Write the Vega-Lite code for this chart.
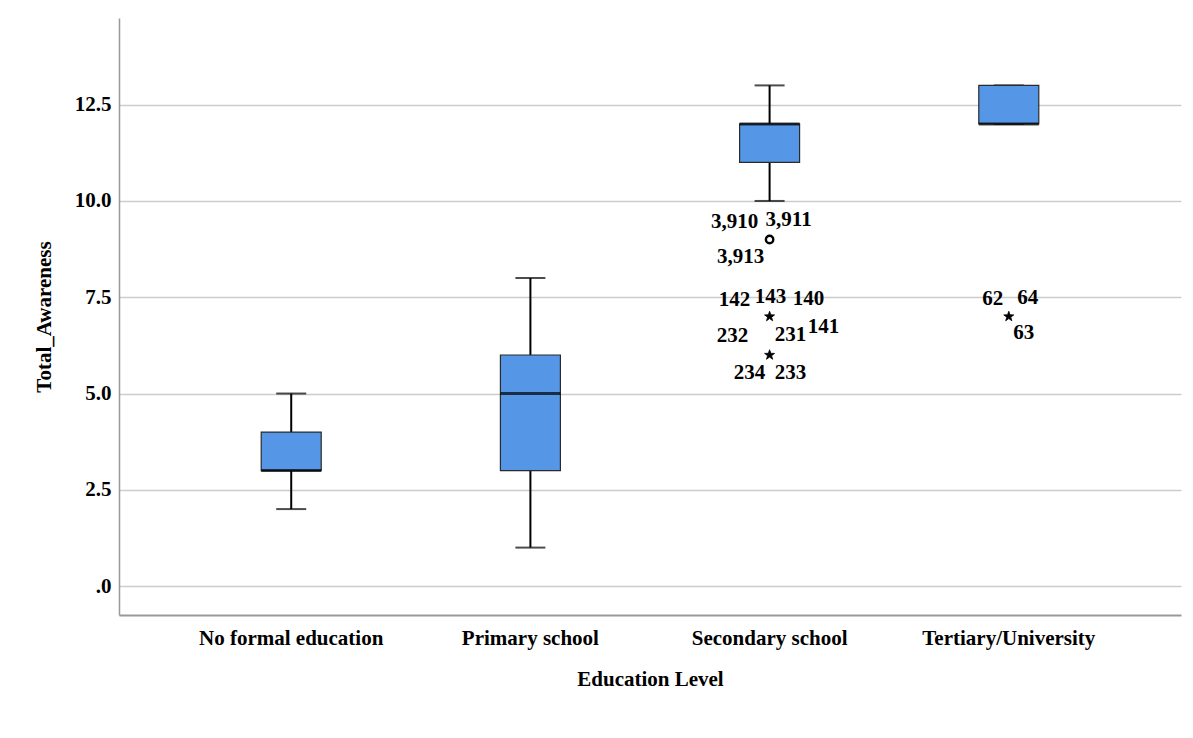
{
  "$schema": "https://vega.github.io/schema/vega-lite/v6.json",
  "autosize": {"type": "none"},
  "padding": {"left": 119, "top": 18, "right": 12, "bottom": 123},
  "width": 1062,
  "height": 597,
  "background": "white",
  "datasets": {
    "boxes": [
      {"edu": "No formal education", "min": 2, "q1": 3, "median": 3, "q3": 4, "max": 5},
      {"edu": "Primary school", "min": 1, "q1": 3, "median": 5, "q3": 6, "max": 8},
      {"edu": "Secondary school", "min": 10, "q1": 11, "median": 12, "q3": 12, "max": 13},
      {"edu": "Tertiary/University", "min": 12, "q1": 12, "median": 12, "q3": 13, "max": 13}
    ],
    "outliers": [
      {"edu": "Secondary school", "value": 9, "kind": "outlier"},
      {"edu": "Secondary school", "value": 7, "kind": "extreme"},
      {"edu": "Secondary school", "value": 6, "kind": "extreme"},
      {"edu": "Tertiary/University", "value": 7, "kind": "extreme"}
    ],
    "labels": [
      {"edu": "Secondary school", "value": 9, "label": "3,910", "pos": "A"},
      {"edu": "Secondary school", "value": 9, "label": "3,911", "pos": "B"},
      {"edu": "Secondary school", "value": 9, "label": "3,913", "pos": "E"},
      {"edu": "Secondary school", "value": 7, "label": "142", "pos": "A"},
      {"edu": "Secondary school", "value": 7, "label": "143", "pos": "C"},
      {"edu": "Secondary school", "value": 7, "label": "140", "pos": "D"},
      {"edu": "Secondary school", "value": 7, "label": "232", "pos": "F"},
      {"edu": "Secondary school", "value": 7, "label": "231", "pos": "G"},
      {"edu": "Secondary school", "value": 7, "label": "141", "pos": "H"},
      {"edu": "Secondary school", "value": 6, "label": "234", "pos": "I"},
      {"edu": "Secondary school", "value": 6, "label": "233", "pos": "G"},
      {"edu": "Tertiary/University", "value": 7, "label": "62", "pos": "J"},
      {"edu": "Tertiary/University", "value": 7, "label": "64", "pos": "B"},
      {"edu": "Tertiary/University", "value": 7, "label": "63", "pos": "L"}
    ]
  },
  "encoding": {
    "x": {
      "field": "edu",
      "type": "nominal",
      "sort": ["No formal education", "Primary school", "Secondary school", "Tertiary/University"],
      "scale": {"paddingInner": 0, "paddingOuter": 0.22},
      "title": "Education Level"
    }
  },
  "layer": [
    {
      "data": {"name": "boxes"},
      "mark": {"type": "rule", "color": "black", "strokeWidth": 2},
      "encoding": {
        "y": {
          "field": "min",
          "type": "quantitative",
          "title": "Total_Awareness",
          "scale": {"domain": [-0.75, 14.75], "nice": false, "zero": false},
          "axis": {
            "values": [0, 2.5, 5, 7.5, 10, 12.5],
            "labelExpr": "datum.value == 0 ? '.0' : format(datum.value, '.1f')"
          }
        },
        "y2": {"field": "max"}
      }
    },
    {
      "data": {"name": "boxes"},
      "mark": {"type": "tick", "color": "black", "size": 30, "thickness": 2, "orient": "horizontal"},
      "encoding": {"y": {"field": "min", "type": "quantitative", "title": "Total_Awareness"}}
    },
    {
      "data": {"name": "boxes"},
      "mark": {"type": "tick", "color": "black", "size": 30, "thickness": 2, "orient": "horizontal"},
      "encoding": {"y": {"field": "max", "type": "quantitative", "title": "Total_Awareness"}}
    },
    {
      "data": {"name": "boxes"},
      "mark": {"type": "bar", "size": 60, "fill": "#5596e6", "stroke": "#2b2b2b", "strokeWidth": 1.2},
      "encoding": {
        "y": {"field": "q1", "type": "quantitative", "title": "Total_Awareness"},
        "y2": {"field": "q3"}
      }
    },
    {
      "data": {"name": "boxes"},
      "mark": {"type": "tick", "color": "black", "size": 60, "thickness": 3, "orient": "horizontal"},
      "encoding": {"y": {"field": "median", "type": "quantitative", "title": "Total_Awareness"}}
    },
    {
      "data": {"name": "outliers"},
      "transform": [{"filter": "datum.kind == 'outlier'"}],
      "mark": {"type": "point", "shape": "circle", "filled": false, "stroke": "black", "strokeWidth": 2.4, "size": 55, "opacity": 1},
      "encoding": {"y": {"field": "value", "type": "quantitative", "title": "Total_Awareness"}}
    },
    {
      "data": {"name": "outliers"},
      "transform": [{"filter": "datum.kind == 'extreme'"}],
      "mark": {
        "type": "point",
        "shape": "M0,-1L0.235,-0.324L0.951,-0.309L0.38,0.124L0.588,0.809L0,0.4L-0.588,0.809L-0.38,0.124L-0.951,-0.309L-0.235,-0.324Z",
        "filled": true,
        "fill": "black",
        "stroke": "black",
        "strokeWidth": 0.8,
        "size": 110,
        "opacity": 1
      },
      "encoding": {"y": {"field": "value", "type": "quantitative", "title": "Total_Awareness"}}
    },
    {"data": {"name": "labels"}, "transform": [{"filter": "datum.pos == 'A'"}],
     "mark": {"type": "text", "dx": -35, "dy": -17, "fontSize": 21, "fontWeight": "bold", "font": "Liberation Serif", "baseline": "middle"},
     "encoding": {"y": {"field": "value", "type": "quantitative", "title": "Total_Awareness"}, "text": {"field": "label"}}},
    {"data": {"name": "labels"}, "transform": [{"filter": "datum.pos == 'B'"}],
     "mark": {"type": "text", "dx": 19, "dy": -19, "fontSize": 21, "fontWeight": "bold", "font": "Liberation Serif", "baseline": "middle"},
     "encoding": {"y": {"field": "value", "type": "quantitative", "title": "Total_Awareness"}, "text": {"field": "label"}}},
    {"data": {"name": "labels"}, "transform": [{"filter": "datum.pos == 'C'"}],
     "mark": {"type": "text", "dx": 1, "dy": -20, "fontSize": 21, "fontWeight": "bold", "font": "Liberation Serif", "baseline": "middle"},
     "encoding": {"y": {"field": "value", "type": "quantitative", "title": "Total_Awareness"}, "text": {"field": "label"}}},
    {"data": {"name": "labels"}, "transform": [{"filter": "datum.pos == 'D'"}],
     "mark": {"type": "text", "dx": 39, "dy": -18, "fontSize": 21, "fontWeight": "bold", "font": "Liberation Serif", "baseline": "middle"},
     "encoding": {"y": {"field": "value", "type": "quantitative", "title": "Total_Awareness"}, "text": {"field": "label"}}},
    {"data": {"name": "labels"}, "transform": [{"filter": "datum.pos == 'E'"}],
     "mark": {"type": "text", "dx": -29, "dy": 18, "fontSize": 21, "fontWeight": "bold", "font": "Liberation Serif", "baseline": "middle"},
     "encoding": {"y": {"field": "value", "type": "quantitative", "title": "Total_Awareness"}, "text": {"field": "label"}}},
    {"data": {"name": "labels"}, "transform": [{"filter": "datum.pos == 'F'"}],
     "mark": {"type": "text", "dx": -37, "dy": 19, "fontSize": 21, "fontWeight": "bold", "font": "Liberation Serif", "baseline": "middle"},
     "encoding": {"y": {"field": "value", "type": "quantitative", "title": "Total_Awareness"}, "text": {"field": "label"}}},
    {"data": {"name": "labels"}, "transform": [{"filter": "datum.pos == 'G'"}],
     "mark": {"type": "text", "dx": 21, "dy": 18, "fontSize": 21, "fontWeight": "bold", "font": "Liberation Serif", "baseline": "middle"},
     "encoding": {"y": {"field": "value", "type": "quantitative", "title": "Total_Awareness"}, "text": {"field": "label"}}},
    {"data": {"name": "labels"}, "transform": [{"filter": "datum.pos == 'H'"}],
     "mark": {"type": "text", "dx": 54, "dy": 10, "fontSize": 21, "fontWeight": "bold", "font": "Liberation Serif", "baseline": "middle"},
     "encoding": {"y": {"field": "value", "type": "quantitative", "title": "Total_Awareness"}, "text": {"field": "label"}}},
    {"data": {"name": "labels"}, "transform": [{"filter": "datum.pos == 'I'"}],
     "mark": {"type": "text", "dx": -20, "dy": 18, "fontSize": 21, "fontWeight": "bold", "font": "Liberation Serif", "baseline": "middle"},
     "encoding": {"y": {"field": "value", "type": "quantitative", "title": "Total_Awareness"}, "text": {"field": "label"}}},
    {"data": {"name": "labels"}, "transform": [{"filter": "datum.pos == 'J'"}],
     "mark": {"type": "text", "dx": -16, "dy": -18, "fontSize": 21, "fontWeight": "bold", "font": "Liberation Serif", "baseline": "middle"},
     "encoding": {"y": {"field": "value", "type": "quantitative", "title": "Total_Awareness"}, "text": {"field": "label"}}},
    {"data": {"name": "labels"}, "transform": [{"filter": "datum.pos == 'L'"}],
     "mark": {"type": "text", "dx": 15, "dy": 16, "fontSize": 21, "fontWeight": "bold", "font": "Liberation Serif", "baseline": "middle"},
     "encoding": {"y": {"field": "value", "type": "quantitative", "title": "Total_Awareness"}, "text": {"field": "label"}}}
  ],
  "config": {
    "font": "Liberation Serif",
    "view": {"stroke": null},
    "axis": {
      "labelFont": "Liberation Serif",
      "titleFont": "Liberation Serif",
      "labelFontSize": 21,
      "titleFontSize": 21,
      "labelFontWeight": "bold",
      "titleFontWeight": "bold",
      "labelColor": "black",
      "titleColor": "black",
      "labelLimit": 0,
      "ticks": false
    },
    "axisX": {
      "labelAngle": 0,
      "grid": false,
      "domainColor": "#999999",
      "domainWidth": 2,
      "labelPadding": 12,
      "titlePadding": 20
    },
    "axisY": {
      "grid": true,
      "gridColor": "#cccccc",
      "gridWidth": 1.5,
      "domainColor": "#999999",
      "domainWidth": 1.5,
      "labelPadding": 8,
      "titlePadding": 20
    }
  }
}
